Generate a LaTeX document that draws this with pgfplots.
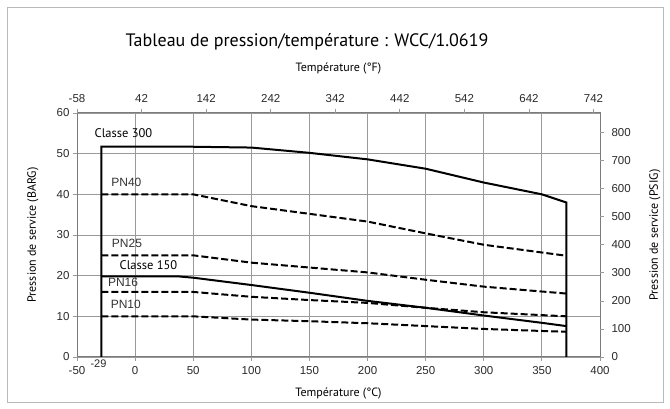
\documentclass[border=0pt]{standalone}
\usepackage{pgfplots}
\pgfplotsset{compat=1.18}
\usepackage{fontspec}
\setmainfont{PT Sans}
\newfontfamily\tickfont{Liberation Sans}
\definecolor{gridgray}{HTML}{9A9A9A}
\definecolor{tickgray}{HTML}{2A2A2A}

% pressure ratings, temperature in degC, pressure in bar
\pgfplotstableread{
t p
-29 0
-29 51.7
38 51.7
50 51.7
100 51.5
150 50.2
200 48.6
250 46.3
300 42.9
350 40.0
371 38.0
371 0
}\classIII
\pgfplotstableread{
t p
-29 19.8
38 19.8
50 19.5
100 17.7
150 15.8
200 13.8
250 12.1
300 10.2
350 8.4
371 7.6
}\classI
\pgfplotstableread{
t p
-29 40
50 40
100 37.1
150 35.2
200 33.3
250 30.4
300 27.6
350 25.7
371 24.9
}\pnXL
\pgfplotstableread{
t p
-29 25
50 25
100 23.2
150 22.0
200 20.8
250 19.0
300 17.3
350 16.1
371 15.6
}\pnXXV
\pgfplotstableread{
t p
-29 16
50 16
100 14.8
150 14.0
200 13.3
250 12.1
300 11.0
350 10.3
371 10.0
}\pnXVI
\pgfplotstableread{
t p
-29 10
50 10
100 9.2
150 8.8
200 8.3
250 7.6
300 6.9
350 6.4
371 6.2
}\pnX

\begin{document}
\begin{tikzpicture}[x=1pt,y=1pt]
\path (0,0) rectangle (670,409);
\draw[gray!55, line width=1pt] (7,6) rectangle (663,401);

\pgfplotsset{
  base/.style={
    at={(77pt,52pt)}, anchor=south west,
    scale only axis, width=523pt, height=244pt,
    tick align=outside, major tick length=4pt,
    tick style={gridgray, line width=0.8pt},
    ticklabel style={font=\tickfont\fontsize{11.5}{13}\selectfont, text=tickgray},
    /pgf/number format/assume math mode=true,
    clip=false,
  }
}

\begin{axis}[base,
  xmin=-50, xmax=400, ymin=0, ymax=60,
  xtick={-50,0,...,400}, ytick={0,10,...,60},
  xtick pos=bottom, ytick pos=left,
  grid=major, grid style={gridgray, line width=0.9pt},
  axis line style={gridgray!80!black, line width=1pt},
  xticklabel style={yshift=-2pt},
]
\addplot[black, line width=2pt] table[x=t,y=p] {\classIII};
\addplot[black, line width=2pt] table[x=t,y=p] {\classI};
\addplot[black, line width=2pt, dash pattern=on 7pt off 3pt] table[x=t,y=p] {\pnXL};
\addplot[black, line width=2pt, dash pattern=on 7pt off 3pt] table[x=t,y=p] {\pnXXV};
\addplot[black, line width=2pt, dash pattern=on 7pt off 3pt] table[x=t,y=p] {\pnXVI};
\addplot[black, line width=2pt, dash pattern=on 7pt off 3pt] table[x=t,y=p] {\pnX};

\node[font=\fontsize{12.5}{14}\selectfont] at (axis cs:-10,55) {Classe 300};
\node[font=\fontsize{12.5}{14}\selectfont] at (axis cs:11.5,22.6) {Classe 150};
\begin{scope}[every node/.style={font=\tickfont\fontsize{12}{14}\selectfont, text=black!80}]
\node at (axis cs:-7.5,42.9) {PN40};
\node at (axis cs:-7,28.0) {PN25};
\node at (axis cs:-10.4,18.4) {PN16};
\node at (axis cs:-8,12.9) {PN10};
\node[font=\tickfont\fontsize{11}{13}\selectfont, text=tickgray] at (axis cs:-31.5,-1.6) {-29};
\end{scope}
\end{axis}

\begin{axis}[base,
  xmin=-58, xmax=752, ymin=0, ymax=870.2,
  axis x line*=top, axis y line*=right,
  axis line style={draw=none},
  xtick={-58,42,...,742}, ytick={0,100,...,800},
  xticklabel style={yshift=3pt},
  yticklabel style={xshift=4pt},
]
\addplot[draw=none] coordinates {(-58,0)};
\end{axis}

\node[font=\fontsize{18}{20}\selectfont, anchor=base] at (307,362) {Tableau de pression/température : WCC/1.0619};
\node[font=\fontsize{12}{14}\selectfont, anchor=base] at (338.5,337) {Température (°F)};
\node[font=\fontsize{12}{14}\selectfont, anchor=base] at (338.5,12) {Température (°C)};
\node[font=\fontsize{12}{14}\selectfont, rotate=90] at (33,174) {Pression de service (BARG)};
\node[font=\fontsize{12}{14}\selectfont, rotate=90] at (655,174) {Pression de service (PSIG)};
\end{tikzpicture}
\end{document}
